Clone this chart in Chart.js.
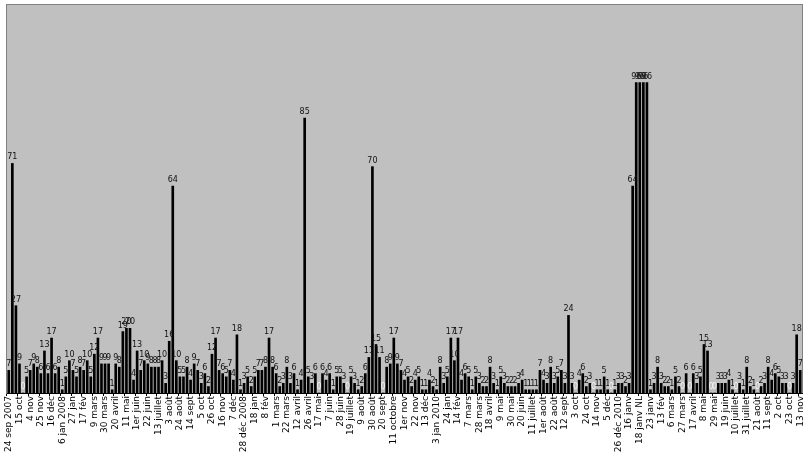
<!DOCTYPE html>
<html><head><meta charset="utf-8">
<script src="https://cdn.jsdelivr.net/npm/chart.js@4.4.0/dist/chart.umd.min.js"></script>
<style>html,body{margin:0;padding:0;background:#fff}canvas{display:block}</style>
</head><body>
<canvas id="c" width="807" height="468"></canvas>
<script>
const tickLabels = ["24 sep 2007","15 oct","4 nov","25 nov","16 déc","6 jan 2008","27 jan","17 fév","9 mars","30 mars",
"20 avril","11 mai","1er juin","22 juin","13 juillet","3 août","24 août","14 sept","5 oct","26 oct",
"16 nov","7 déc","28 déc 2008","18 jan","8 fév","1 mars","22 mars","12 avril","26 avril","17 mai",
"7 juin","28 juin","19 juillet","9 août","30 août","20 sept","11 octobre","1er nov","22 nov","13 déc",
"3 jan 2010","24 jan","14 fév","7 mars","28 mars","18 avril","9 mai","30 mai","20 juin","11 juillet",
"1er août","22 août","12 sept","3 oct","24 oct","14 nov","5 déc","26 déc 2010","16 janv","18 janv NL",
"23 janv","13 fév","6 mars","27 mars","17 avril","8 mai","29 mai","19 juin","10 juillet","31 juillet",
"21 août","11 sept","2 oct","23 oct","13 nov"];

const values = [
7,71,27,9,0,5,7,9,8,6,13,6,17,6,8,1,5,10,7,5,
8,7,10,5,12,17,9,9,9,1,9,8,19,20,20,4,13,7,10,9,
8,8,8,10,3,16,64,10,5,5,8,4,9,7,3,6,2,12,17,7,
6,5,7,4,18,1,3,5,2,5,7,7,8,17,8,6,2,3,8,3,
6,1,4,85,5,3,6,0,6,4,6,1,5,5,3,0,5,3,1,2,
6,11,70,15,11,0,8,9,17,9,7,4,5,2,4,5,1,1,4,2,
1,8,3,5,17,10,17,4,6,5,1,5,3,2,2,8,3,1,5,3,
2,2,2,3,4,1,1,1,1,7,4,3,8,3,5,7,3,24,3,0,
4,6,2,3,0,1,1,5,1,0,1,3,3,2,3,64,96,96,96,96,
1,3,8,3,2,2,1,5,2,0,6,0,6,3,5,15,13,0,0,3,
3,3,4,1,0,3,1,8,2,1,0,2,3,8,4,6,5,3,3,0,
3,18,7];

const LABEL_STEP = 3;
const categories = values.map((v, i) => i % LABEL_STEP === 0 ? (tickLabels[i / LABEL_STEP] || '') : '');

const bgPlugin = {
  id: 'bg',
  beforeDraw(chart) {
    const ctx = chart.ctx, a = chart.chartArea;
    ctx.save();
    ctx.fillStyle = '#ffffff';
    ctx.fillRect(0, 0, chart.width, chart.height);
    ctx.fillStyle = '#c0c0c0';
    ctx.fillRect(a.left, a.top, a.right - a.left, a.bottom - a.top);
    ctx.strokeStyle = '#808080';
    ctx.lineWidth = 1;
    ctx.strokeRect(Math.round(a.left) - 0.5, Math.round(a.top) - 0.5, Math.round(a.right - a.left) + 1, Math.round(a.bottom - a.top) + 1);
    ctx.restore();
  }
};

const valueLabels = {
  id: 'valueLabels',
  afterDatasetsDraw(chart) {
    const ctx = chart.ctx;
    const meta = chart.getDatasetMeta(0);
    ctx.save();
    ctx.font = '8px "DejaVu Sans"';
    ctx.textAlign = 'center';
    ctx.textBaseline = 'alphabetic';
    meta.data.forEach((el, i) => {
      const v = values[i];
      ctx.fillStyle = v === 0 ? '#f4f4f4' : '#111111';
      ctx.fillText(String(v), el.x, el.y - 4);
    });
    ctx.restore();
  }
};

new Chart(document.getElementById('c'), {
  type: 'bar',
  data: {
    labels: categories,
    datasets: [{
      data: values,
      backgroundColor: '#000000',
      borderWidth: 0,
      barThickness: 2
    }]
  },
  options: {
    responsive: false,
    animation: false,
    devicePixelRatio: 1,
    layout: { padding: { left: 7, right: 5, top: 5, bottom: 0 } },
    plugins: { legend: { display: false }, tooltip: { enabled: false } },
    scales: {
      x: {
        offset: true,
        grid: {
          display: true, drawOnChartArea: false, drawTicks: true, tickLength: 3, offset: true,
          color: (c) => (c.index % LABEL_STEP === 0 ? '#000000' : 'rgba(0,0,0,0)')
        },
        border: { display: true, color: '#000000', width: 1 },
        ticks: {
          autoSkip: false, maxRotation: 90, minRotation: 90, padding: 0,
          color: '#000000', font: { family: 'DejaVu Sans', size: 9 },
          callback: (v, i) => categories[i]
        },
        afterFit: (s) => { s.height = 75; s.paddingLeft = 0; s.paddingRight = 0; }
      },
      y: { display: false, min: 0, max: 120 }
    }
  },
  plugins: [bgPlugin, valueLabels]
});
</script>
</body></html>
